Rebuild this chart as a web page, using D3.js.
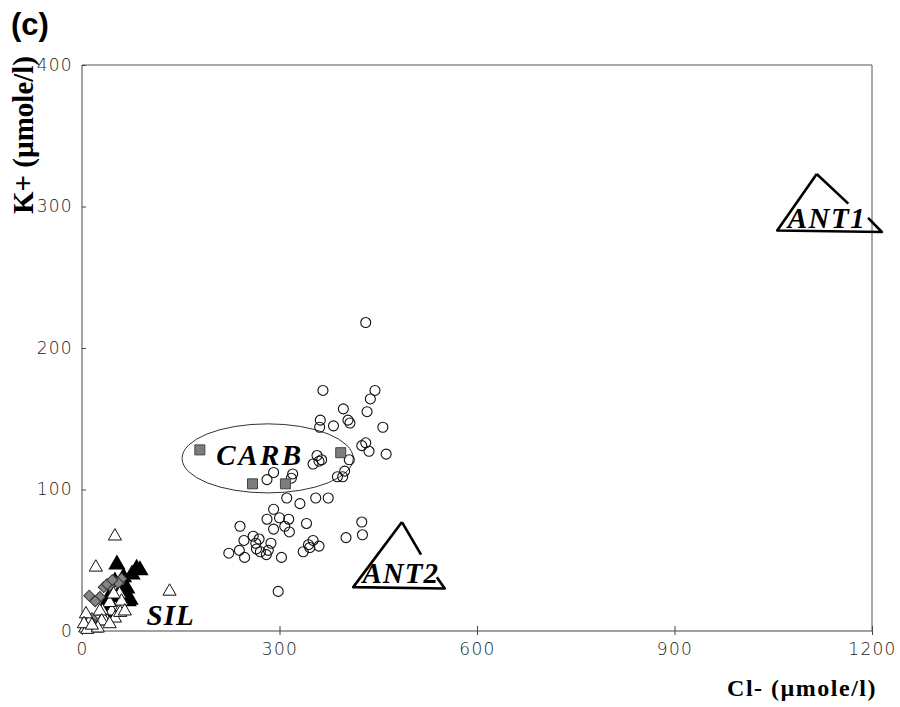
<!DOCTYPE html>
<html>
<head>
<meta charset="utf-8">
<script src="https://cdn.jsdelivr.net/npm/d3@7"></script>
<style>
  body { margin: 0; background: #fff; }
</style>
</head>
<body>
<script>
// tick values
var xTicks = [0, 300, 600, 900, 1200];
var yTicks = [0, 100, 200, 300, 400];

// open circles (Cl-, K+)
var circlePts = [
  [431,218],[366,170],[445,170],[438,164],[397,157],[433,155],[362,149],[361,144],
  [382,145],[404,149],[407,147],[457,144],[425,131],[431,133],[436,127],[462,125],
  [357,124],[360,120],[351,118],[364,121],[406,121],[399,113],[388,109],[396,109],
  [291,112],[281,107],[320,111],[318,108],[311,94],[331,90],[355,94],[374,94],
  [291,86],[281,79],[300,80],[314,79],[291,72],[308,74],[315,70],[341,76],
  [425,77],[426,68],[401,66],[240,74],[260,67],[246,64],[269,65],[264,62],
  [287,62],[265,58],[239,57],[223,55],[247,52],[283,57],[280,54],[303,52],
  [351,64],[344,61],[360,60],[336,56],[346,59],[298,28],[271,56]
];

// grey squares (CARB)
var squarePts = [[179,128],[393,126],[259,104],[309,104]];

// filled triangles (SIL)
var filledTri = [
  [53,47],[83,44],[76,40],[88,43],[68,30],[55,24],[70,21],[40,21],[58,28],
  [73,22],[63,38],[50,35],[35,18],[38,11],[45,27]
];

// grey diamonds
var diamondPts = [
  [11,25],[33,31],[50,35],[60,37],[42,32],[27,24],[15,9],[10,8],[20,21],
  [55,34],[38,33],[46,36]
];

// open triangles
var openTri = [
  [50,67],[21,45],[133,28],[45,14],[57,26],[42,20],[60,17],[31,14],[12,7],
  [5,2],[22,2],[38,7],[50,9],[6,12],[60,21],[48,26],[32,9],[58,13],[65,14],
  [27,14],[30,7],[42,5],[8,1],[24,2],[3,5],[15,4]
];

// hand drawn annotation outlines (data units)
var ant1Lines = [
  [[1116,323],[1164,302]],
  [[1116,323],[1056,283],[1215,282],[1194,292]]
];
var ant2Lines = [
  [[486,77],[515,54]],
  [[486,77],[412,31],[551,30],[539,38]]
];
var carbEllipse = {cx: 282, cy: 122, rx: 130, ry: 24.4};

var labels = [
  {text: "CARB", x: 204, y: 117, spacing: 2.5},
  {text: "SIL", x: 98, y: 4, spacing: 1},
  {text: "ANT1", x: 1072, y: 285, spacing: 1.5},
  {text: "ANT2", x: 426, y: 34, spacing: 1}
];

var W = 900, H = 707;
var margin = {top: 65, right: 28, bottom: 76, left: 82},
    width = W - margin.left - margin.right,
    height = H - margin.top - margin.bottom;

var svg = d3.select("body").append("svg")
    .attr("width", W)
    .attr("height", H);

var g = svg.append("g")
    .attr("transform", "translate(" + margin.left + "," + margin.top + ")");

var x = d3.scaleLinear().domain([0, 1200]).range([0, width]);
var y = d3.scaleLinear().domain([0, 400]).range([height, 0]);

// frame top / right
g.append("path")
  .attr("d", "M0,0H" + width + "V" + height)
  .attr("fill", "none")
  .attr("stroke", "#555")
  .attr("stroke-width", 1);

// x axis
var xAxis = g.append("g")
  .attr("transform", "translate(0," + height + ")")
  .call(d3.axisBottom(x).tickValues(xTicks).tickFormat(d3.format("d")).tickSize(4).tickPadding(8));
xAxis.selectAll(".tick line").attr("y1", -5);
xAxis.select(".domain").attr("d", "M0,0H" + width);

// y axis
var yAxis = g.append("g")
  .call(d3.axisLeft(y).tickValues(yTicks).tickFormat(d3.format("d")).tickSize(7).tickPadding(2));
yAxis.selectAll(".tick line").attr("x2", 4);
yAxis.select(".domain").attr("d", "M0,0V" + height);

g.selectAll(".domain, .tick line").attr("stroke", "#444");
g.selectAll(".tick text")
  .attr("font-family", "DejaVu Sans ExtraLight, DejaVu Sans, sans-serif")
  .attr("font-weight", 200)
  .attr("font-size", 17)
  .attr("fill", "#222")
  .attr("letter-spacing", 1.3);

// axis titles
svg.append("text")
  .attr("transform", "translate(33,135) rotate(-90)")
  .attr("text-anchor", "middle")
  .attr("font-family", "Liberation Serif, Times New Roman, serif")
  .attr("font-weight", "bold")
  .attr("font-size", 29)
  .text("K+ (µmole/l)");

svg.append("text")
  .attr("x", 877)
  .attr("y", 696)
  .attr("text-anchor", "end")
  .attr("font-family", "Liberation Serif, Times New Roman, serif")
  .attr("font-weight", "bold")
  .attr("font-size", 24)
  .attr("letter-spacing", 1.5)
  .text("Cl- (µmole/l)");

svg.append("text")
  .attr("x", 11)
  .attr("y", 35)
  .attr("font-family", "Liberation Sans, Arial, sans-serif")
  .attr("font-weight", "bold")
  .attr("font-size", 31)
  .text("(c)");

// CARB ellipse
g.append("ellipse")
  .attr("cx", x(carbEllipse.cx))
  .attr("cy", y(carbEllipse.cy))
  .attr("rx", x(carbEllipse.rx) - x(0))
  .attr("ry", y(0) - y(carbEllipse.ry))
  .attr("fill", "none")
  .attr("stroke", "#333")
  .attr("stroke-width", 1);

// open circles
g.selectAll(".circ")
  .data(circlePts)
  .enter()
  .append("circle")
    .attr("class", "circ")
    .attr("cx", function(d) { return x(d[0]); })
    .attr("cy", function(d) { return y(d[1]); })
    .attr("r", 5)
    .attr("fill", "none")
    .attr("stroke", "#111")
    .attr("stroke-width", 1.1);

// grey squares
g.selectAll(".sq")
  .data(squarePts)
  .enter()
  .append("path")
    .attr("class", "sq")
    .attr("d", d3.symbol().type(d3.symbolSquare).size(100))
    .attr("transform", function(d) { return "translate(" + x(d[0]) + "," + y(d[1]) + ")"; })
    .attr("fill", "#7d7d7d")
    .attr("stroke", "#444")
    .attr("stroke-width", 1);

// filled triangles
g.selectAll(".ftri")
  .data(filledTri)
  .enter()
  .append("path")
    .attr("class", "ftri")
    .attr("d", d3.symbol().type(d3.symbolTriangle).size(130))
    .attr("transform", function(d) { return "translate(" + x(d[0]) + "," + y(d[1]) + ")"; })
    .attr("fill", "#000");

// grey diamonds
g.selectAll(".dia")
  .data(diamondPts)
  .enter()
  .append("path")
    .attr("class", "dia")
    .attr("d", d3.symbol().type(d3.symbolSquare).size(60))
    .attr("transform", function(d) { return "translate(" + x(d[0]) + "," + y(d[1]) + ") rotate(45)"; })
    .attr("fill", "#858585")
    .attr("stroke", "#333")
    .attr("stroke-width", 1);

// open triangles
g.selectAll(".otri")
  .data(openTri)
  .enter()
  .append("path")
    .attr("class", "otri")
    .attr("d", d3.symbol().type(d3.symbolTriangle).size(75))
    .attr("transform", function(d) { return "translate(" + x(d[0]) + "," + y(d[1]) + ")"; })
    .attr("fill", "#fff")
    .attr("stroke", "#111")
    .attr("stroke-width", 1);

// hand drawn triangles
var line = d3.line()
  .x(function(d) { return x(d[0]); })
  .y(function(d) { return y(d[1]); });

g.selectAll(".ant")
  .data(ant1Lines.concat(ant2Lines))
  .enter()
  .append("path")
    .attr("class", "ant")
    .attr("d", line)
    .attr("fill", "none")
    .attr("stroke", "#000")
    .attr("stroke-width", 2.6)
    .attr("stroke-linejoin", "round");

// region labels
g.selectAll(".lab")
  .data(labels)
  .enter()
  .append("text")
    .attr("class", "lab")
    .attr("x", function(d) { return x(d.x); })
    .attr("y", function(d) { return y(d.y); })
    .attr("font-family", "Liberation Serif, Times New Roman, serif")
    .attr("font-style", "italic")
    .attr("font-weight", "bold")
    .attr("font-size", 29)
    .attr("letter-spacing", function(d) { return d.spacing; })
    .text(function(d) { return d.text; });
</script>
</body>
</html>
